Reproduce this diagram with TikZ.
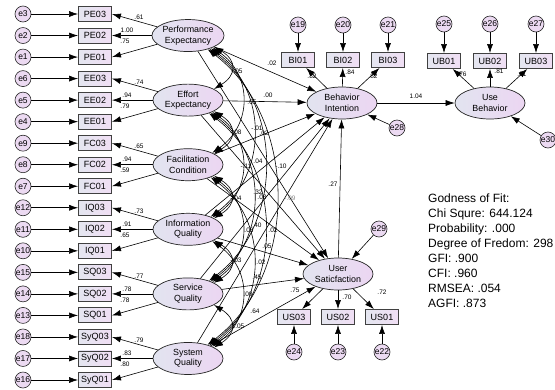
\documentclass[tikz,border=0pt]{standalone}
\usepackage{fontspec}
\setmainfont{Liberation Sans}
\usetikzlibrary{arrows.meta,shapes.geometric}

\definecolor{latL}{RGB}{226,228,240}
\definecolor{latR}{RGB}{236,214,242}
\definecolor{boxL}{RGB}{228,230,240}
\definecolor{boxR}{RGB}{240,222,244}
\definecolor{errC}{RGB}{236,218,242}

\tikzset{
    lat/.style={ellipse, draw=black!85, line width=0.7pt, minimum width=70pt, minimum height=32pt,
        inner sep=0pt, left color=latL, right color=latR, align=center,
        font=\fontsize{8.9}{10.5}\selectfont},
    obs/.style={rectangle, draw=black!75, line width=0.9pt, minimum width=33pt, minimum height=15pt,
        inner sep=0pt, left color=boxL, right color=boxR, font=\fontsize{9}{10}\selectfont},
    err/.style={circle, draw=black!85, line width=0.6pt, minimum size=16pt, inner sep=0pt,
        fill=errC, font=\fontsize{8.5}{9}\selectfont},
    reg/.style={-{Latex[length=9pt,width=6pt]}, line width=0.6pt},
    cov/.style={{Latex[length=9pt,width=6pt]}-{Latex[length=9pt,width=6pt]}, line width=0.6pt},
    coef/.style={inner sep=0pt, font=\fontsize{6.5}{7}\selectfont},
}

\begin{document}
\begin{tikzpicture}[x=1pt, y=-1pt]
    \path[use as bounding box, fill=white] (0,0) rectangle (555,389);

    % exogenous constructs with their indicators
    \foreach \g/\lbl/\ea/\eb/\ec/\la/\lb/\lc [count=\k from 0] in {
        PE/{Performance\\Expectancy}/3/2/1/.61/1.00/.75,
        EE/{Effort\\Expectancy}/6/5/4/.74/.94/.79,
        FC/{Facilitation\\Condition}/9/8/7/.65/.94/.59,
        IQ/{Information\\Quality}/12/11/10/.73/.91/.65,
        SQ/{Service\\Quality}/15/14/13/.77/.78/.78,
        SyQ/{System\\Quality}/18/17/16/.79/.83/.80}
    {
        \pgfmathsetmacro\ym{14+21.53*(3*\k+1)}
        \node[lat] (\g) at (188,\ym) {\lbl};
        \node[obs] (\g3) at (95,\ym-21.53) {\g03};
        \node[obs] (\g2) at (95,\ym) {\g02};
        \node[obs] (\g1) at (95,\ym+21.53) {\g01};
        \node[err] (e\ea) at (23,\ym-21.53) {e\ea};
        \node[err] (e\eb) at (23,\ym) {e\eb};
        \node[err] (e\ec) at (23,\ym+21.53) {e\ec};
        \draw[reg] (e\ea) -- (\g3);
        \draw[reg] (e\eb) -- (\g2);
        \draw[reg] (e\ec) -- (\g1);
        \draw[reg] (\g) -- (\g3.east);
        \draw[reg] (\g) -- (\g2.east);
        \draw[reg] (\g) -- (\g1.east);
        \node[coef] (l\g3) at (139,\ym-18) {\la};
        \node[coef] (l\g2) at (127,\ym-5) {\lb};
        \node[coef] (l\g1) at (125,\ym+6) {\lc};
    }

    % endogenous constructs
    \node[lat] (BI) at (342,103) {Behavior\\Intention};
    \node[lat] (UB) at (490,103) {Use\\Behavior};
    \node[lat] (US) at (338,274) {User\\Saticfaction};

    \foreach \n/\x/\e/\l/\lx/\ly in {1/298/19/.82/312/76, 2/343/20/.84/350/72, 3/388/21/.82/373/76}
    {
        \node[obs] (BI\n) at (\x,60) {BI0\n};
        \node[err] (e\e) at (\x,25) {e\e};
        \draw[reg] (e\e) -- (BI\n);
        \draw[reg] (BI) -- (BI\n);
        \node[coef] (lBI\n) at (\lx,\ly) {\l};
    }
    \foreach \n/\x/\e/\l/\lx/\ly in {1/444/25/.76/462/74, 2/490/26/.81/499/71, 3/536/27/.81/522/74}
    {
        \node[obs] (UB\n) at (\x,61) {UB0\n};
        \node[err] (e\e) at (\x,24) {e\e};
        \draw[reg] (e\e) -- (UB\n);
        \draw[reg] (UB) -- (UB\n);
        \node[coef] (lUB\n) at (\lx,\ly) {\l};
    }
    \foreach \n/\x/\e/\l/\lx/\ly in {3/294/24/.75/295/290, 2/338/23/.70/347/297, 1/382/22/.72/382/292}
    {
        \node[obs] (US\n) at (\x,317) {US0\n};
        \node[err] (e\e) at (\x,352) {e\e};
        \draw[reg] (e\e) -- (US\n);
        \draw[reg] (US) -- (US\n);
        \node[coef] (lUS\n) at (\lx,\ly) {\l};
    }

    \node[err] (e28) at (397,128) {e28};
    \node[err] (e29) at (379,229) {e29};
    \node[err] (e30) at (548,140) {e30};
    \draw[reg] (e28) -- (BI);
    \draw[reg] (e29) -- (US);
    \draw[reg] (e30) -- (UB);

    \draw[reg] (BI) -- (UB) node[coef, pos=0.5, above=4pt] (lUB) {1.04};
    \draw[reg] (US) -- (BI);
    \node[coef] (lUSBI) at (333,184) {.27};

    % structural paths
    \foreach \g in {PE,EE,FC,IQ,SQ,SyQ}
    {
        \draw[reg] (\g) -- (BI);
        \draw[reg] (\g) -- (US);
    }

    % covariances
    \foreach \a/\b/\d in {PE/EE/1, PE/FC/2, PE/IQ/3, PE/SQ/4, PE/SyQ/5, EE/FC/1, EE/IQ/2,
        EE/SQ/3, EE/SyQ/4, FC/IQ/1, FC/SQ/2, FC/SyQ/3, IQ/SQ/1, IQ/SyQ/2, SQ/SyQ/1}
    {
        \pgfmathtruncatemacro\sa{-20-3*\d}
        \pgfmathtruncatemacro\eA{20+3*\d}
        \pgfmathsetmacro\cx{(4+13*\d)*1.33}
        \pgfmathsetmacro\cy{14*\d}
        \draw[cov] (\a.\sa) .. controls +(\cx,\cy) and +(\cx,-\cy) .. (\b.\eA);
    }

    % estimates in the middle
    \node[coef] (c1) at (272,63) {.02};
    \node[coef] (c2) at (268,95) {.00};
    \node[coef] (c3) at (252,102) {.05};
    \node[coef] (c4) at (237,71) {-.05};
    \node[coef] (c5) at (257,128) {-.01};
    \node[coef] (c6) at (264,133) {.02};
    \node[coef] (c7) at (236,132) {-.08};
    \node[coef] (c8) at (246,166) {-.11};
    \node[coef] (c9) at (258,161) {.04};
    \node[coef] (c10) at (281,166) {-.10};
    \node[coef] (c11) at (258,192) {.32};
    \node[coef] (c12) at (262,197) {.03};
    \node[coef] (c13) at (236,198) {-.04};
    \node[coef, text=black!45] (c14) at (290,198) {-.09};
    \node[coef] (c15) at (257,225) {.40};
    \node[coef] (c16) at (249,230) {.03};
    \node[coef] (c17) at (273,230) {.02};
    \node[coef] (c18) at (267,246) {.05};
    \node[coef] (c19) at (261,262) {.02};
    \node[coef] (c20) at (236,260) {-.03};
    \node[coef] (c21) at (257,277) {.45};
    \node[coef] (c22) at (248,294) {.00};
    \node[coef] (c23) at (255,311) {.64};
    \node[coef] (c24) at (238,326) {1.05};

    % fit indices
    \node[anchor=north west, inner sep=0pt, align=left, font=\fontsize{12}{14.9}\selectfont] (fit) at (428,194)
        {Godness of Fit:\\Chi Squre: 644.124\\Probability: .000\\Degree of Fredom: 298\\GFI: .900\\CFI: .960\\RMSEA: .054\\AGFI: .873};
\end{tikzpicture}
\end{document}
